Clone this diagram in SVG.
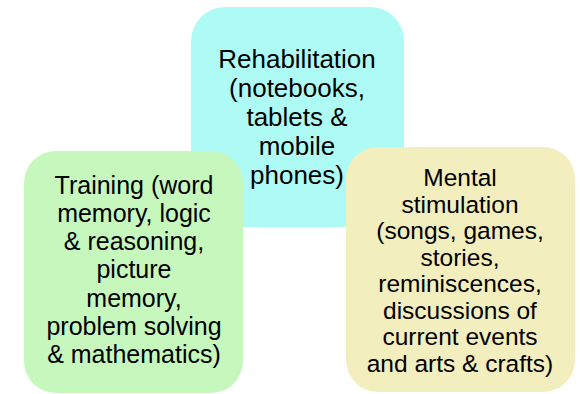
<svg xmlns="http://www.w3.org/2000/svg" width="580" height="394" viewBox="0 0 580 394">
<style>
text{font-family:"Liberation Sans",Arial,sans-serif;font-size:25px;fill:#000;text-anchor:middle}
#rehabilitation text{font-size:26px}
#mental text{font-size:24.5px}
</style>
<rect width="580" height="394" fill="#fff"/>
<g id="rehabilitation">
<rect x="191" y="7" width="213" height="220" rx="34" fill="#aefbf5"/>
<text><tspan x="297" y="67.5">Rehabilitation</tspan><tspan x="297" y="96.5">(notebooks,</tspan><tspan x="297" y="125.5">tablets &amp;</tspan><tspan x="297" y="154.5">mobile</tspan><tspan x="297" y="183.5">phones)</tspan></text>
</g>
<g id="training">
<rect x="24" y="151" width="219" height="242" rx="32" fill="#c6f7bd"/>
<text><tspan x="134" y="194">Training (word</tspan><tspan x="134" y="222">memory, logic</tspan><tspan x="134" y="250">&amp; reasoning,</tspan><tspan x="134" y="278">picture</tspan><tspan x="134" y="307">memory,</tspan><tspan x="134" y="335">problem solving</tspan><tspan x="134" y="363">&amp; mathematics)</tspan></text>
</g>
<g id="mental">
<rect x="346" y="147" width="229" height="245" rx="32" fill="#f2eebe"/>
<text><tspan x="460" y="186">Mental</tspan><tspan x="460" y="212.5">stimulation</tspan><tspan x="460" y="239">(songs, games,</tspan><tspan x="460" y="265.5">stories,</tspan><tspan x="460" y="292">reminiscences,</tspan><tspan x="460" y="318.5">discussions of</tspan><tspan x="460" y="345">current events</tspan><tspan x="460" y="372">and arts &amp; crafts)</tspan></text>
</g>
<g id="connectors"/>
</svg>
